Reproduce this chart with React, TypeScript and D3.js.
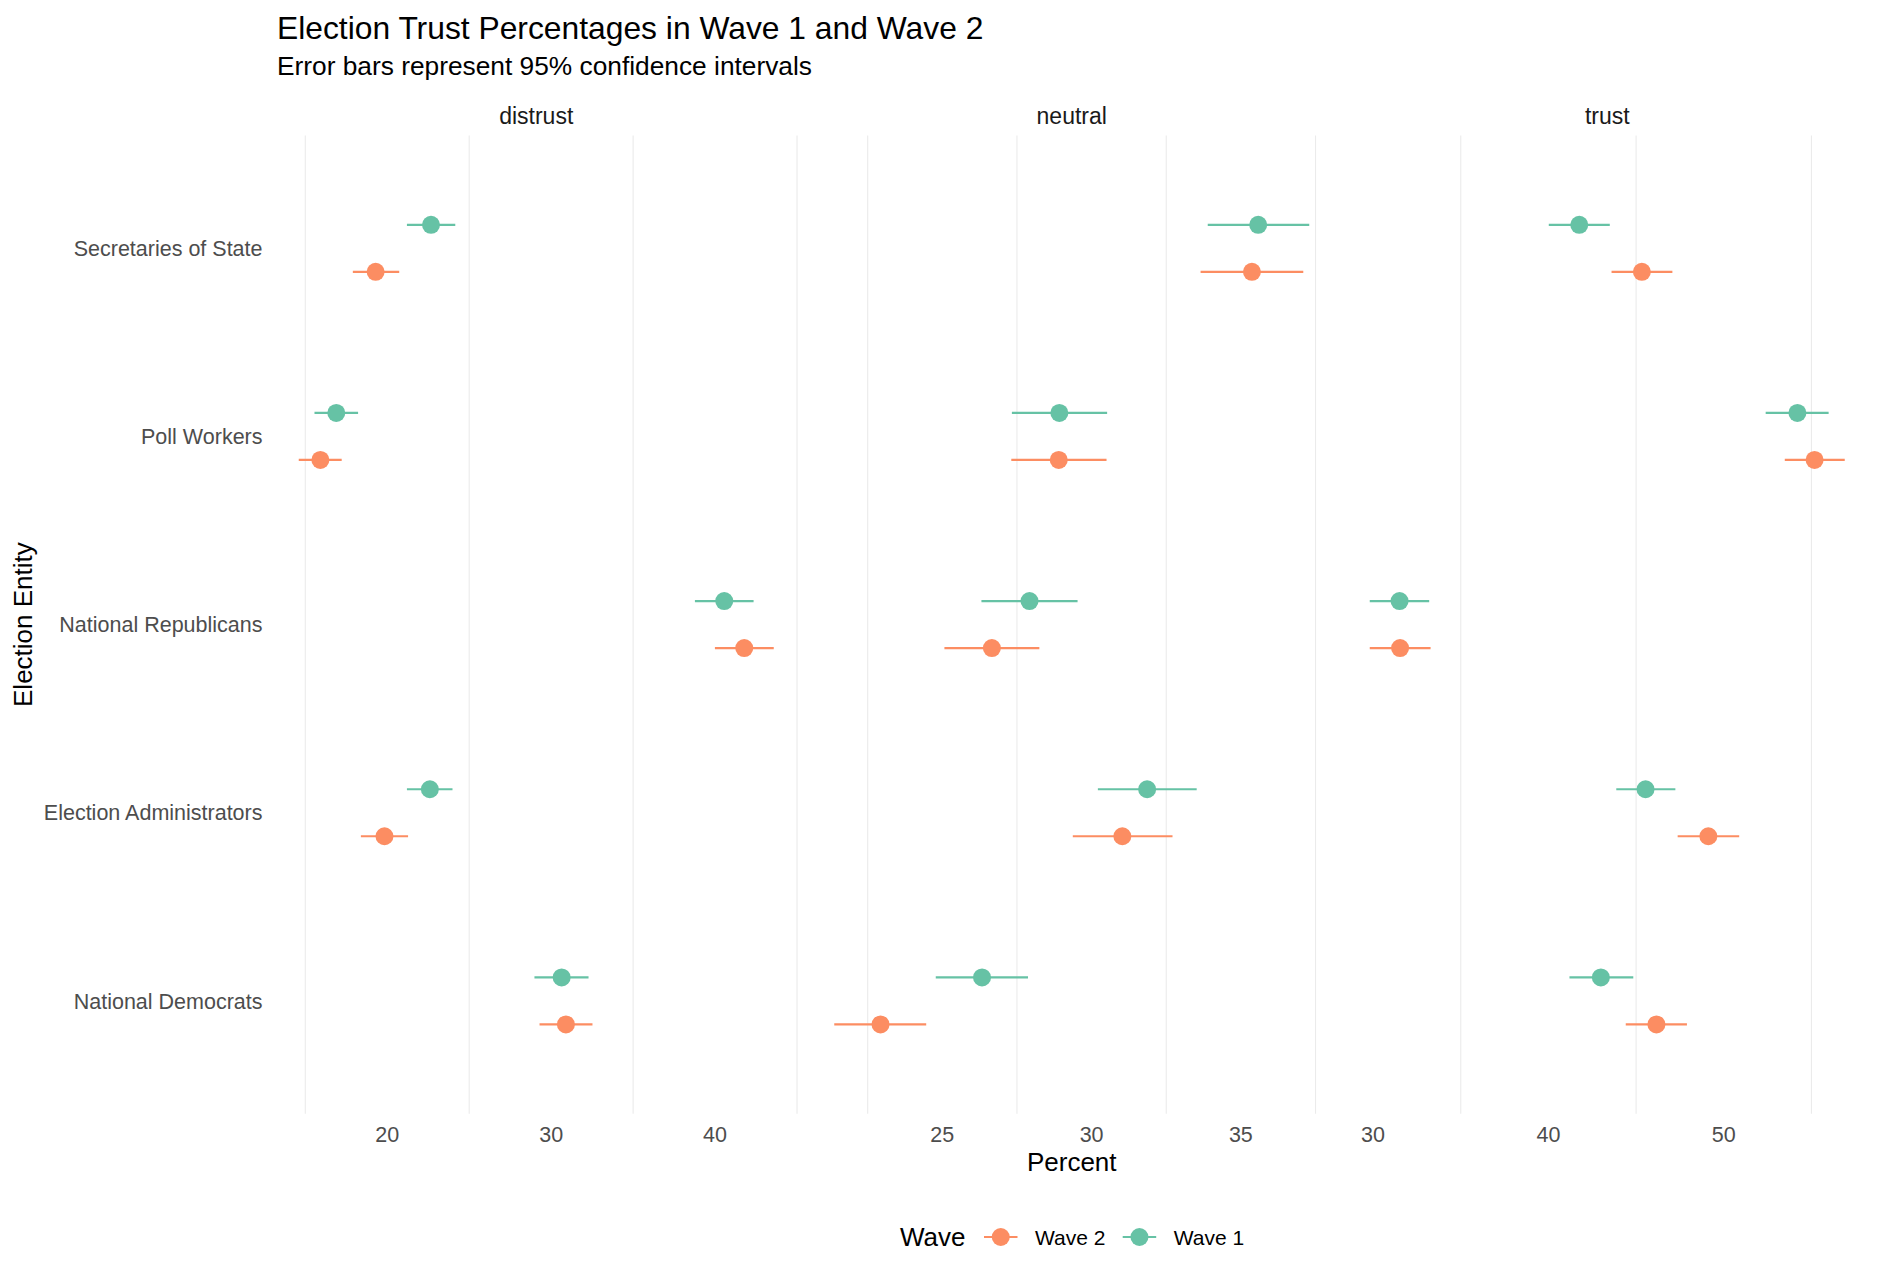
import * as d3 from "d3";
import { useEffect, useRef } from "react";

// categories
const entities = [
  "Secretaries of State",
  "Poll Workers",
  "National Republicans",
  "Election Administrators",
  "National Democrats",
];
const facets = ["distrust", "neutral", "trust"];
const waves = ["Wave 2", "Wave 1"];
const waveColors = ["#FC8D62", "#66C2A5"];

// tick labels per facet
const distrustTicks = [20, 30, 40];
const neutralTicks = [25, 30, 35];
const trustTicks = [30, 40, 50];

// distrust
const distrustW1 = [22.67, 16.89, 40.56, 22.6, 30.64];
const distrustW1Lo = [21.2, 15.56, 38.77, 21.2, 28.98];
const distrustW1Hi = [24.15, 18.22, 42.35, 23.98, 32.28];
const distrustW2 = [19.29, 15.92, 41.78, 19.83, 30.9];
const distrustW2Lo = [17.9, 14.6, 39.99, 18.39, 29.29];
const distrustW2Hi = [20.73, 17.22, 43.58, 21.27, 32.52];

// neutral
const neutralW1 = [35.58, 28.92, 27.92, 31.86, 26.33];
const neutralW1Lo = [33.89, 27.33, 26.31, 30.21, 24.78];
const neutralW1Hi = [37.29, 30.52, 29.53, 33.52, 27.87];
const neutralW2 = [35.37, 28.9, 26.66, 31.03, 22.93];
const neutralW2Lo = [33.65, 27.31, 25.07, 29.37, 21.38];
const neutralW2Hi = [37.09, 30.5, 28.25, 32.71, 24.46];

// trust
const trustW1 = [41.76, 54.2, 31.51, 45.54, 42.99];
const trustW1Lo = [40.02, 52.39, 29.81, 43.87, 41.2];
const trustW1Hi = [43.5, 55.98, 33.2, 47.24, 44.84];
const trustW2 = [45.33, 55.18, 31.54, 49.12, 46.16];
const trustW2Lo = [43.6, 53.48, 29.81, 47.37, 44.41];
const trustW2Hi = [47.07, 56.9, 33.28, 50.88, 47.9];

type Row = { entity: string; wave: string; est: number; lo: number; hi: number };

function makeRows(
  w1: number[], w1lo: number[], w1hi: number[],
  w2: number[], w2lo: number[], w2hi: number[],
): Row[] {
  const rows: Row[] = [];
  entities.forEach((e, i) => {
    rows.push({ entity: e, wave: "Wave 1", est: w1[i], lo: w1lo[i], hi: w1hi[i] });
    rows.push({ entity: e, wave: "Wave 2", est: w2[i], lo: w2lo[i], hi: w2hi[i] });
  });
  return rows;
}

const facetData = [
  makeRows(distrustW1, distrustW1Lo, distrustW1Hi, distrustW2, distrustW2Lo, distrustW2Hi),
  makeRows(neutralW1, neutralW1Lo, neutralW1Hi, neutralW2, neutralW2Lo, neutralW2Hi),
  makeRows(trustW1, trustW1Lo, trustW1Hi, trustW2, trustW2Lo, trustW2Hi),
];
const facetTicks = [distrustTicks, neutralTicks, trustTicks];

export default function App() {
  const svgRef = useRef<SVGSVGElement>(null);

  useEffect(() => {
    if (!svgRef.current) return;
    const svg = d3.select(svgRef.current);
    svg.selectAll("*").remove();

    const width = 1882;
    const height = 1283;
    const font = "'Liberation Sans', Arial, sans-serif";
    const panelLeft = 275;
    const panelW = 522.5;
    const gap = 13;
    const panelTop = 135.4;
    const panelBottom = 1113.8;
    const dodge = 23.5;

    svg.attr("width", width).attr("height", height).style("font-family", font);

    const color = d3.scaleOrdinal<string, string>().domain(waves).range(waveColors);

    // y: discrete, 0.6 expansion each side
    const y = d3
      .scalePoint<string>()
      .domain(entities)
      .range([panelTop, panelBottom])
      .padding(0.6);

    // titles
    svg
      .append("text")
      .attr("x", 277)
      .attr("y", 38.5)
      .style("font-size", "31.8px")
      .attr("fill", "#000")
      .text("Election Trust Percentages in Wave 1 and Wave 2");
    svg
      .append("text")
      .attr("x", 277)
      .attr("y", 74.5)
      .style("font-size", "26.3px")
      .attr("fill", "#000")
      .text("Error bars represent 95% confidence intervals");

    facets.forEach((facet, fi) => {
      const data = facetData[fi];
      const x0 = panelLeft + fi * (panelW + gap);
      const lo = d3.min(data, (d) => d.lo) as number;
      const hi = d3.max(data, (d) => d.hi) as number;
      const pad = (hi - lo) * 0.05;
      const x = d3.scaleLinear().domain([lo - pad, hi + pad]).range([x0, x0 + panelW]);

      const g = svg.append("g").attr("class", "panel");

      // minor grid only
      const ticks = facetTicks[fi];
      const step = ticks[1] - ticks[0];
      const minor = [ticks[0] - step / 2, ...ticks.map((t) => t + step / 2)].filter(
        (v) => v >= x.domain()[0] && v <= x.domain()[1],
      );
      g.selectAll(".grid")
        .data(minor)
        .enter()
        .append("line")
        .attr("x1", (d) => x(d))
        .attr("x2", (d) => x(d))
        .attr("y1", panelTop)
        .attr("y2", panelBottom)
        .attr("stroke", "#EBEBEB")
        .attr("stroke-width", 1.1);

      // strip label
      g.append("text")
        .attr("x", x0 + panelW / 2)
        .attr("y", 123.5)
        .attr("text-anchor", "middle")
        .style("font-size", "23px")
        .attr("fill", "#1A1A1A")
        .text(facet);

      // tick labels
      g.selectAll(".tick")
        .data(ticks)
        .enter()
        .append("text")
        .attr("x", (d) => x(d))
        .attr("y", 1141.5)
        .attr("text-anchor", "middle")
        .style("font-size", "21.5px")
        .attr("fill", "#4D4D4D")
        .text((d) => d);

      const yPos = (d: Row) => (y(d.entity) as number) + (d.wave === "Wave 1" ? -dodge : dodge);

      // error bars
      g.selectAll(".err")
        .data(data)
        .enter()
        .append("line")
        .attr("x1", (d) => x(d.lo))
        .attr("x2", (d) => x(d.hi))
        .attr("y1", yPos)
        .attr("y2", yPos)
        .attr("stroke", (d) => color(d.wave))
        .attr("stroke-width", 2.2);

      // points
      g.selectAll(".pt")
        .data(data)
        .enter()
        .append("circle")
        .attr("cx", (d) => x(d.est))
        .attr("cy", yPos)
        .attr("r", 9)
        .attr("fill", (d) => color(d.wave));
    });

    // y axis labels
    svg
      .selectAll(".ylab")
      .data(entities)
      .enter()
      .append("text")
      .attr("x", 262.5)
      .attr("y", (d) => (y(d) as number) + 7.7)
      .attr("text-anchor", "end")
      .style("font-size", "21.5px")
      .attr("fill", "#4D4D4D")
      .text((d) => d);

    // axis titles
    svg
      .append("text")
      .attr("x", panelLeft + (3 * panelW + 2 * gap) / 2)
      .attr("y", 1170.5)
      .attr("text-anchor", "middle")
      .style("font-size", "26px")
      .attr("fill", "#000")
      .text("Percent");
    svg
      .append("text")
      .attr("transform", `translate(31.5, ${(panelTop + panelBottom) / 2}) rotate(-90)`)
      .attr("text-anchor", "middle")
      .style("font-size", "26px")
      .attr("fill", "#000")
      .text("Election Entity");

    // legend
    const leg = svg.append("g");
    leg
      .append("text")
      .attr("x", 900)
      .attr("y", 1246)
      .style("font-size", "26px")
      .attr("fill", "#000")
      .text("Wave");
    const keyX = [984, 1122.7];
    waves.forEach((w, i) => {
      const kx = keyX[i];
      leg
        .append("line")
        .attr("x1", kx)
        .attr("x2", kx + 33.5)
        .attr("y1", 1237)
        .attr("y2", 1237)
        .attr("stroke", color(w))
        .attr("stroke-width", 2.2);
      leg
        .append("circle")
        .attr("cx", kx + 16.75)
        .attr("cy", 1237)
        .attr("r", 9)
        .attr("fill", color(w));
      leg
        .append("text")
        .attr("x", kx + 51)
        .attr("y", 1244.5)
        .style("font-size", "21px")
        .attr("fill", "#000")
        .text(w);
    });
  }, []);

  return (
    <svg
      ref={svgRef}
      style={{ position: "absolute", left: 0, top: 0, background: "#fff" }}
    ></svg>
  );
}
